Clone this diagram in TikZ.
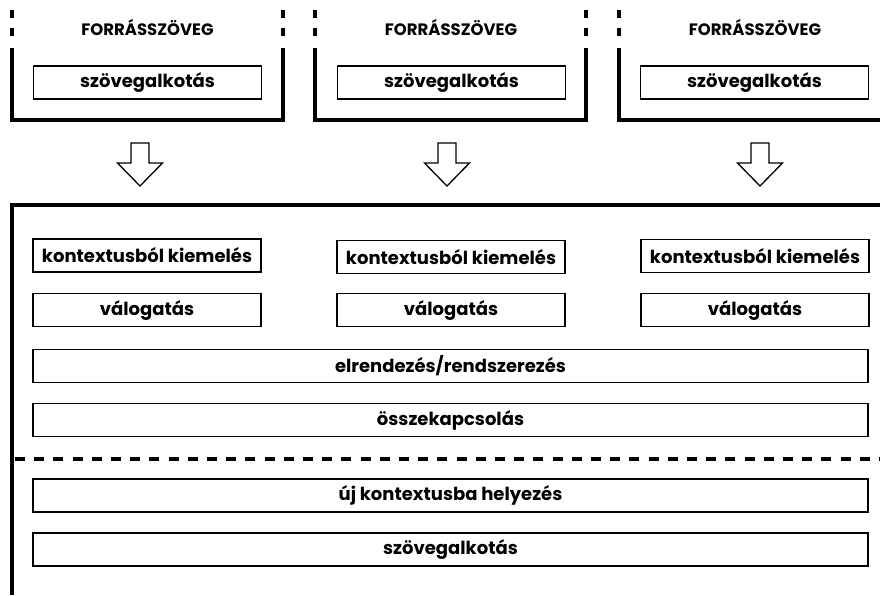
\documentclass[tikz,border=0pt]{standalone}
\usepackage{fontspec}
\setmainfont{Poppins}
\usepackage{tikz}
\usetikzlibrary{positioning}

\begin{document}
\begin{tikzpicture}[
  x=1pt, y=-1pt,
  stagebox/.style={draw, line width=1.6pt, minimum height=33pt, inner sep=0pt,
    font=\fontsize{18}{19}\selectfont\bfseries},
  smallbox/.style={stagebox, minimum width=228pt},
  widebox/.style={stagebox, minimum width=835pt},
  title/.style={font=\fontsize{16.5}{17}\selectfont\bfseries},
  frame/.style={line width=3.6pt, line join=miter},
  gap/.style={frame, dash pattern=on 8pt off 10pt},
  hollow/.style={draw, line width=1.3pt, line join=miter}
]
\useasboundingbox (0,0) rectangle (880,595);

% source texts
\node[title] (src1) at (147.5,28) {FORRÁSSZÖVEG};
\node[title] (src2) at (451,28) {FORRÁSSZÖVEG};
\node[title] (src3) at (755,28) {FORRÁSSZÖVEG};
\node[smallbox] (gen1) at (147.5,82.5) {szövegalkotás};
\node[smallbox] (gen2) at (451.5,82.5) {szövegalkotás};
\node[smallbox] (gen3) at (754.5,82.5) {szövegalkotás};

\draw[frame] (12,48) -- (12,120) -- (283,120) -- (283,48);
\draw[frame] (315,48) -- (315,120) -- (586,120) -- (586,48);
\draw[frame] (619,48) -- (619,120) -- (880,120);
\foreach \x in {12,283,315,586,619}
  \draw[gap] (\x,10) -- (\x,37);

% hollow arrows
\foreach \x in {140,447,760}
  \draw[hollow] (\x-9,143) -- (\x+9,143) -- (\x+9,163) -- (\x+22.5,163)
    -- (\x,186) -- (\x-22.5,163) -- (\x-9,163) -- cycle;

% new text
\draw[frame] (880,205) -- (12,205) -- (12,595);
\node[smallbox] (ext1) at (147,255.5) {kontextusból kiemelés};
\node[smallbox] (ext2) at (451,257) {kontextusból kiemelés};
\node[smallbox] (ext3) at (755,256) {kontextusból kiemelés};
\node[smallbox] (sel1) at (147,310) {válogatás};
\node[smallbox] (sel2) at (451,310) {válogatás};
\node[smallbox] (sel3) at (755,310) {válogatás};
\node[widebox] (order) at (450.5,366) {elrendezés/rendszerezés};
\node[widebox] (link) at (450.5,420) {összekapcsolás};
\draw[frame, dash pattern=on 10pt off 9.2pt] (15,459) -- (880,459);
\node[widebox] (recon) at (450.5,495.5) {új kontextusba helyezés};
\node[widebox] (gen) at (450.5,549.5) {szövegalkotás};
\end{tikzpicture}
\end{document}
